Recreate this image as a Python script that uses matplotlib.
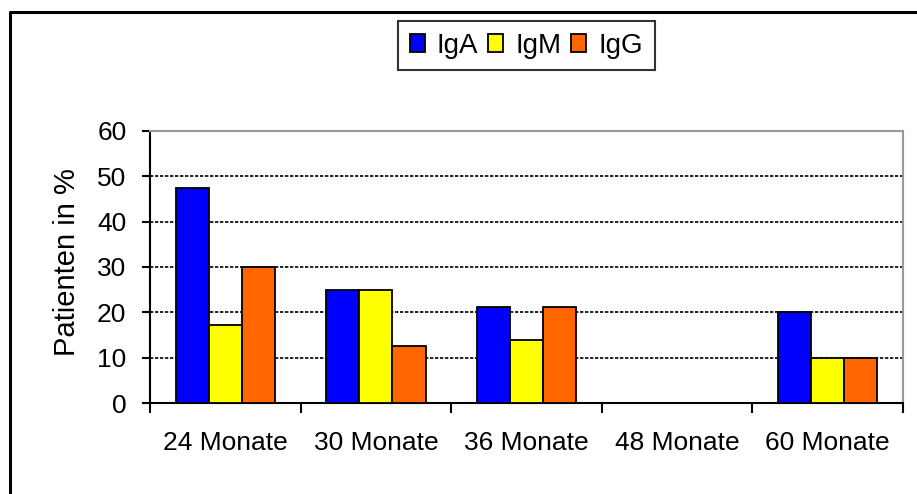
import matplotlib
matplotlib.use("Agg")
import matplotlib.pyplot as plt
from matplotlib.lines import Line2D
import numpy as np

plt.rcParams['font.family'] = ['Liberation Sans', 'DejaVu Sans']

# data
categories = ["24 Monate", "30 Monate", "36 Monate", "48 Monate", "60 Monate"]
series_names = ["IgA", "IgM", "IgG"]
iga = [47.4, 25.0, 21.1, 0.0, 20.0]
igm = [17.1, 25.0, 14.0, 0.0, 10.0]
igg = [30.0, 12.5, 21.1, 0.0, 10.0]
yticks = [0, 10, 20, 30, 40, 50, 60]

colors = ["#0000ff", "#ffff00", "#ff6600"]

W, H = 917, 494
fig = plt.figure(figsize=(W / 100, H / 100), dpi=100)

# plot area in pixel coords: left 150, right 903, top 131, bottom 403
ax = fig.add_axes([150 / W, 1 - 403 / H, (903 - 150) / W, (403 - 131) / H])

x = np.arange(len(categories))
bw = 0.22
for k, (vals, name) in enumerate(zip([iga, igm, igg], series_names)):
    ax.bar(x + (k - 1) * bw, vals, width=bw, color=colors[k],
           edgecolor="black", linewidth=1.3, label=name, zorder=3)

ax.set_xlim(-0.5, len(categories) - 0.5)
ax.set_ylim(0, 60)
ax.set_yticks(yticks)
ax.set_yticklabels([str(v) for v in yticks], fontsize=19)
ax.set_xticks(x)
ax.set_xticklabels(categories, fontsize=19)
ax.set_xticks(np.arange(len(categories) + 1) - 0.5, minor=True)
ax.tick_params(axis="x", which="major", length=0, pad=20)
ax.tick_params(axis="x", which="minor", length=7, width=1.5, direction="out")
ax.tick_params(axis="y", length=6, width=1.5, direction="out", pad=11)

ax.yaxis.grid(True, color="black", linestyle=(0, (2, 1)), linewidth=1.2)
ax.set_axisbelow(True)

for side in ["left", "bottom"]:
    ax.spines[side].set_color("black")
    ax.spines[side].set_linewidth(1.5)
for side in ["top", "right"]:
    ax.spines[side].set_color("#999999")
    ax.spines[side].set_linewidth(1.5)

ax.set_ylabel("Patienten in %", fontsize=21)
ax.yaxis.set_label_coords(-0.092, 0.517)

leg = fig.legend(loc="upper left", bbox_to_anchor=(398 / W, 1 - 21 / H),
                 ncol=3, fontsize=20, frameon=True, fancybox=False,
                 handlelength=0.55, handleheight=0.6, handletextpad=0.43,
                 columnspacing=0.35, borderpad=0.42, borderaxespad=0)
leg.get_frame().set_edgecolor("black")
leg.get_frame().set_linewidth(1.5)

# outer chart frame (right and bottom run off the picture)
fig.add_artist(Line2D([10 / W, 10 / W, 1.01], [-0.01, 1 - 12 / H, 1 - 12 / H],
                      transform=fig.transFigure, color="black", linewidth=2.2))

fig.savefig("out.png", dpi=100)
